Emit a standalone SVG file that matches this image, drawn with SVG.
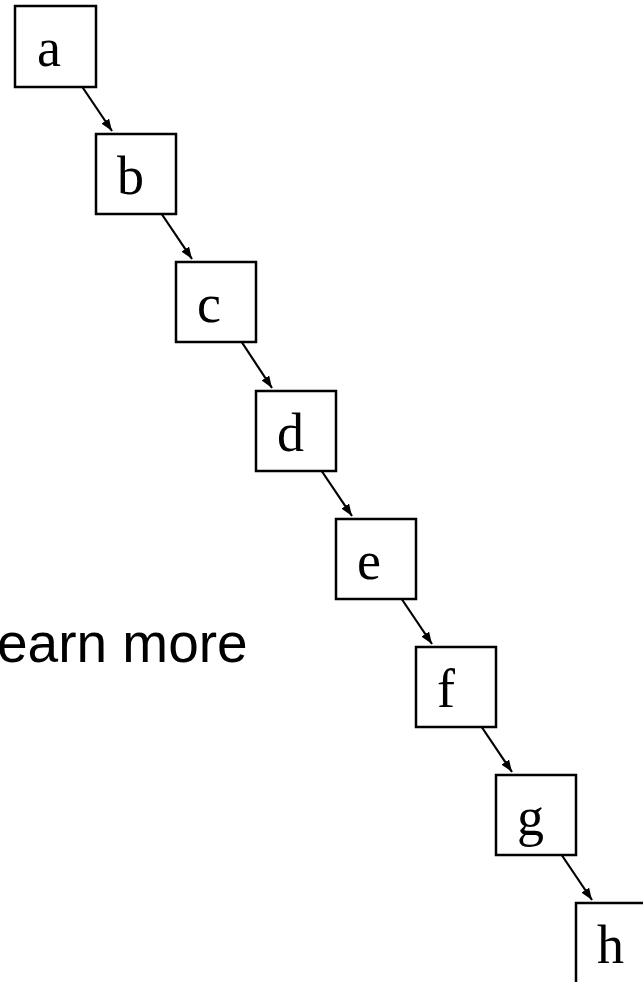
<svg xmlns="http://www.w3.org/2000/svg" width="643" height="982" viewBox="0 0 643 982">
<defs>
<style>
.box{fill:#fff;stroke:#000;stroke-width:2.5}
.lbl{font-family:"Liberation Serif","Times New Roman",serif;font-size:54px;fill:#000}
.edge{stroke:#000;stroke-width:2.2;fill:none;marker-end:url(#ah)}
</style>
<marker id="ah" viewBox="0 0 12 9" refX="12" refY="4.5" markerWidth="12" markerHeight="9" orient="auto" markerUnits="userSpaceOnUse">
<path d="M0,0 L12,4.5 L0,9 z" fill="#000"/>
</marker>
</defs>
<rect width="643" height="982" fill="#fff"/>
<text x="-3" y="662" font-family="Liberation Sans, Arial, sans-serif" font-size="55" fill="#000">earn more</text>
<g id="connectors">
<line class="edge" x1="81" y1="85" x2="112" y2="131"/>
<line class="edge" x1="161" y1="213" x2="192" y2="259"/>
<line class="edge" x1="241" y1="341" x2="272" y2="388"/>
<line class="edge" x1="321" y1="470" x2="352" y2="516"/>
<line class="edge" x1="401" y1="598" x2="432" y2="644"/>
<line class="edge" x1="481" y1="726" x2="512" y2="772"/>
<line class="edge" x1="561" y1="854" x2="592" y2="900"/>
</g>
<g id="a"><rect class="box" x="15" y="6" width="81" height="81"/><text class="lbl" x="37" y="66">a</text></g>
<g id="b"><rect class="box" x="96" y="134" width="80" height="80"/><text class="lbl" x="117" y="194">b</text></g>
<g id="c"><rect class="box" x="176" y="262" width="80" height="80"/><text class="lbl" x="197" y="322">c</text></g>
<g id="d"><rect class="box" x="256" y="391" width="80" height="80"/><text class="lbl" x="277" y="451">d</text></g>
<g id="e"><rect class="box" x="336" y="519" width="80" height="80"/><text class="lbl" x="357" y="579">e</text></g>
<g id="f"><rect class="box" x="416" y="647" width="80" height="80"/><text class="lbl" x="437" y="707">f</text></g>
<g id="g"><rect class="box" x="496" y="775" width="80" height="80"/><text class="lbl" x="517" y="835">g</text></g>
<g id="h"><rect class="box" x="576" y="903" width="80" height="95"/><text class="lbl" x="597" y="963">h</text></g>
</svg>
